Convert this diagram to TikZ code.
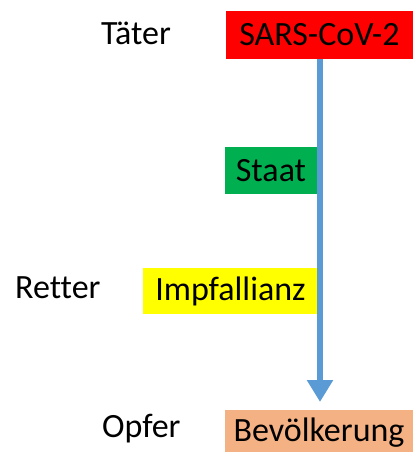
\documentclass[tikz,border=0pt]{standalone}
\usepackage{fontspec}
\setmainfont{Carlito}[Ligatures=NoCommon]
\usetikzlibrary{arrows.meta}
\definecolor{virusred}{HTML}{FF0000}
\definecolor{staatgreen}{HTML}{00B050}
\definecolor{impfyellow}{HTML}{FFFF00}
\definecolor{volkorange}{HTML}{F4B183}
\definecolor{arrowblue}{HTML}{5B9BD5}
\tikzset{
    role/.style={anchor=base west, inner sep=0pt, font=\fontsize{34}{40}\selectfont},
    actor/.style={inner sep=0pt, font=\fontsize{34}{40}\selectfont}
}

\begin{document}
\begin{tikzpicture}[x=1pt, y=-1pt]
    \useasboundingbox (0,0) rectangle (419,452);
    \node[role] (Ta) at (101,45) {Täter};
    \node[role] (Re) at (15,298) {Retter};
    \node[role] (Op) at (102,437) {Opfer};
    \node[actor, fill=virusred, minimum width=187pt, minimum height=48pt] (V) at (319.5,35) {SARS-CoV-2};
    \node[actor, fill=staatgreen, minimum width=92pt, minimum height=47pt] (St) at (271,170.5) {Staat};
    \node[actor, fill=impfyellow, minimum width=175pt, minimum height=46pt] (Im) at (230.5,291) {Impfallianz};
    \node[actor, fill=volkorange, minimum width=188pt, minimum height=46pt] (Bv) at (319,433) {Bevölkerung};
    \coordinate (tip) at (320,402);
    \draw[arrowblue, line width=6pt, -{Triangle[width=25pt, length=22pt]}] (V.south -| tip) -- (tip);
\end{tikzpicture}
\end{document}
